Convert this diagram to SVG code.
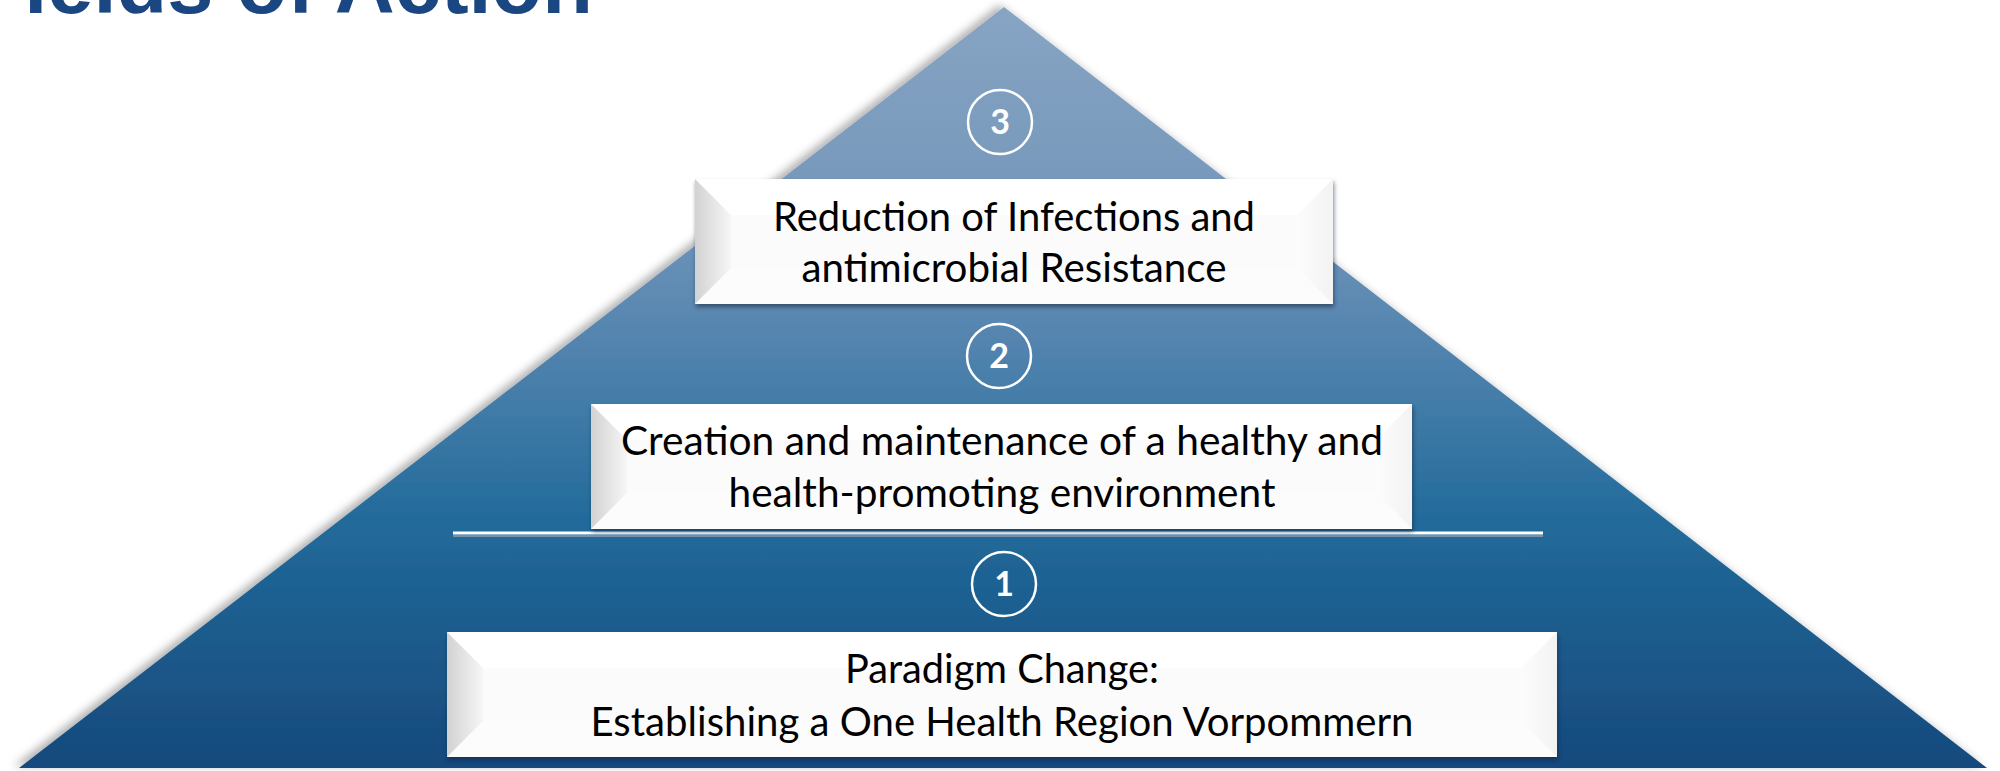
<svg xmlns="http://www.w3.org/2000/svg" width="2000" height="771" viewBox="0 0 2000 771">
  <defs>
    <linearGradient id="pyrGrad" gradientUnits="userSpaceOnUse" x1="0" y1="7" x2="0" y2="768">
      <stop offset="0" stop-color="#87a4c3"/>
      <stop offset="0.25" stop-color="#7698bb"/>
      <stop offset="0.45" stop-color="#5183ae"/>
      <stop offset="0.68" stop-color="#216a9a"/>
      <stop offset="1" stop-color="#17497c"/>
    </linearGradient>
    <linearGradient id="leftFace" x1="0" y1="0" x2="1" y2="0">
      <stop offset="0" stop-color="#d2d2d2"/>
      <stop offset="1" stop-color="#f6f6f6"/>
    </linearGradient>
    <linearGradient id="rightFace" x1="0" y1="0" x2="1" y2="0">
      <stop offset="0" stop-color="#fcfcfc"/>
      <stop offset="1" stop-color="#f3f3f3"/>
    </linearGradient>
    <filter id="pyrShadow" x="-5%" y="-5%" width="110%" height="110%">
      <feDropShadow dx="-5" dy="-2" stdDeviation="4" flood-color="#000" flood-opacity="0.3"/>
    </filter>
    <filter id="boxShadow" x="-5%" y="-10%" width="110%" height="130%">
      <feDropShadow dx="1" dy="3" stdDeviation="2" flood-color="#0a1f35" flood-opacity="0.55"/>
    </filter>
    <style>
      .label { font-family: Lato, "Liberation Sans", sans-serif; font-size: 41px; fill: #000; text-anchor: middle; }
      .num { font-family: Lato, "Liberation Sans", sans-serif; font-size: 34px; font-weight: bold; fill: #fff; text-anchor: middle; }
      .ring { fill: none; stroke: #fff; stroke-width: 2.5; }
      .title { font-family: "Liberation Sans", Arial, sans-serif; font-size: 83px; font-weight: bold; fill: #1a4781; }
      .top { fill: #ffffff; }
      .bottom { fill: #fcfcfc; }
      .inner { fill: #fbfbfb; }
      .left { fill: url(#leftFace); }
      .right { fill: url(#rightFace); }
    </style>
  </defs>

  <rect width="2000" height="771" fill="#ffffff"/>

  <text class="title" x="593" y="13" text-anchor="end">Fields of Action</text>

  <g id="pyramid">
    <polygon points="1004,7 1987,768 19,768" fill="url(#pyrGrad)" filter="url(#pyrShadow)"/>
  </g>

  <g id="divider">
    <line x1="453" y1="536" x2="1543" y2="536" stroke="#8c9db0" stroke-width="2" opacity="0.8"/>
    <line x1="453" y1="533" x2="1543" y2="533" stroke="#ffffff" stroke-width="3"/>
  </g>

  <g id="badge3">
    <circle class="ring" cx="1000" cy="122" r="32"/>
    <text class="num" x="1000" y="134">3</text>
  </g>
  <g id="badge2">
    <circle class="ring" cx="999" cy="356" r="32"/>
    <text class="num" x="999" y="368">2</text>
  </g>
  <g id="badge1">
    <circle class="ring" cx="1004" cy="584" r="32"/>
    <text class="num" x="1004" y="596">1</text>
  </g>

  <g id="box3">
    <rect x="695" y="179" width="638" height="125" fill="#fff" filter="url(#boxShadow)"/>
    <polygon class="inner" points="731,215 1297,215 1297,268 731,268"/>
    <polygon class="top" points="695,179 1333,179 1297,215 731,215"/>
    <polygon class="bottom" points="695,304 1333,304 1297,268 731,268"/>
    <polygon class="left" points="695,179 731,215 731,268 695,304"/>
    <polygon class="right" points="1333,179 1297,215 1297,268 1333,304"/>
    <text class="label" x="1014" y="231" textLength="482" lengthAdjust="spacingAndGlyphs">Reduction of Infections and</text>
    <text class="label" x="1014" y="282" textLength="425" lengthAdjust="spacingAndGlyphs">antimicrobial Resistance</text>
  </g>

  <g id="box2">
    <rect x="591" y="404" width="821" height="125" fill="#fff" filter="url(#boxShadow)"/>
    <polygon class="inner" points="627,440 1376,440 1376,493 627,493"/>
    <polygon class="top" points="591,404 1412,404 1376,440 627,440"/>
    <polygon class="bottom" points="591,529 1412,529 1376,493 627,493"/>
    <polygon class="left" points="591,404 627,440 627,493 591,529"/>
    <polygon class="right" points="1412,404 1376,440 1376,493 1412,529"/>
    <text class="label" x="1002" y="455" textLength="762" lengthAdjust="spacingAndGlyphs">Creation and maintenance of a healthy and</text>
    <text class="label" x="1002" y="507" textLength="547" lengthAdjust="spacingAndGlyphs">health-promoting environment</text>
  </g>

  <g id="box1">
    <rect x="447" y="632" width="1110" height="125" fill="#fff" filter="url(#boxShadow)"/>
    <polygon class="inner" points="483,668 1521,668 1521,721 483,721"/>
    <polygon class="top" points="447,632 1557,632 1521,668 483,668"/>
    <polygon class="bottom" points="447,757 1557,757 1521,721 483,721"/>
    <polygon class="left" points="447,632 483,668 483,721 447,757"/>
    <polygon class="right" points="1557,632 1521,668 1521,721 1557,757"/>
    <text class="label" x="1002" y="683" textLength="314" lengthAdjust="spacingAndGlyphs">Paradigm Change:</text>
    <text class="label" x="1002" y="736" textLength="823" lengthAdjust="spacingAndGlyphs">Establishing a One Health Region Vorpommern</text>
  </g>
</svg>
